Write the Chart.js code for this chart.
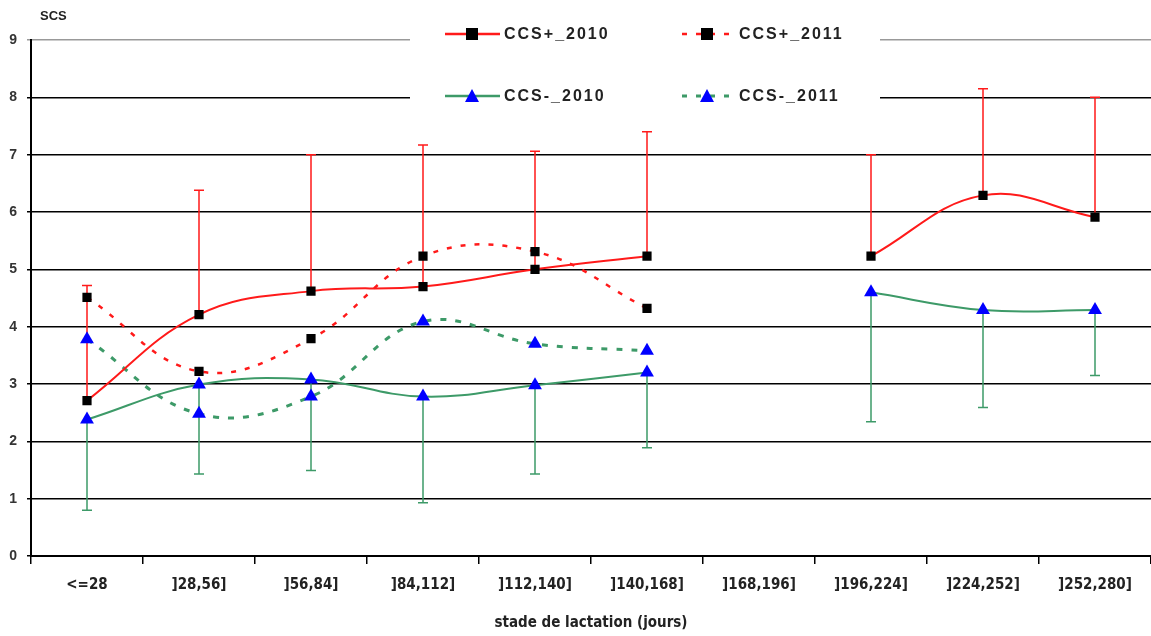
<!DOCTYPE html>
<html>
<head>
<meta charset="utf-8">
<script src="https://cdn.jsdelivr.net/npm/chart.js@4/dist/chart.umd.min.js"></script>
<style>
  html, body { margin: 0; padding: 0; background: #fff; overflow: hidden; }
  #wrap { width: 1151px; height: 636px; overflow: hidden; }
  canvas { display: block; }
</style>
</head>
<body>
<div id="wrap"><canvas id="myChart" width="1159" height="636"></canvas></div>
<script>
var labels = ["<=28", "]28,56]", "]56,84]", "]84,112]", "]112,140]", "]140,168]", "]168,196]", "]196,224]", "]224,252]", "]252,280]"];

var ccsPlus2010 = [2.71, 4.21, 4.62, 4.70, 5.00, 5.23, null, 5.23, 6.29, 5.91];
var ccsPlus2011 = [4.51, 3.22, 3.79, 5.23, 5.31, 4.32, null, null, null, null];
var ccsMinus2010 = [2.38, 2.99, 3.08, 2.78, 2.98, 3.20, null, 4.60, 4.29, 4.29];
var ccsMinus2011 = [3.78, 2.48, 2.78, 4.09, 3.70, 3.58, null, null, null, null];

// error bar ends
var plus2010Upper = [4.72, 6.38, 7.00, 7.17, 7.06, 7.40, null, 7.00, 8.15, 8.00];
var minus2010Lower = [0.80, 1.43, 1.49, 0.93, 1.43, 1.89, null, 2.34, 2.59, 3.15];

var yTicks = [0, 1, 2, 3, 4, 5, 6, 7, 8, 9];

var RED = '#ff1a1a';
var GREEN = '#3d9a68';
var BLUE = '#0000ff';

var narrow = "'Liberation Sans Narrow', 'DejaVu Sans Condensed', 'Liberation Sans', sans-serif";

var errorBars = {
    id: 'errorBars',
    beforeDatasetsDraw: function (chart) {
        var ctx = chart.ctx;
        var y = chart.scales.y;
        function draw(dsIndex, ends, color) {
            var meta = chart.getDatasetMeta(dsIndex);
            ctx.save();
            ctx.strokeStyle = color;
            ctx.lineWidth = 1.5;
            meta.data.forEach(function (pt, i) {
                if (ends[i] == null || chart.data.datasets[dsIndex].data[i] == null) return;
                var ye = y.getPixelForValue(ends[i]);
                ctx.beginPath();
                ctx.moveTo(pt.x, pt.y);
                ctx.lineTo(pt.x, ye);
                ctx.moveTo(pt.x - 5, ye);
                ctx.lineTo(pt.x + 5, ye);
                ctx.stroke();
            });
            ctx.restore();
        }
        draw(0, plus2010Upper, RED);
        draw(2, minus2010Lower, GREEN);
    }
};

var boxLegend = {
    id: 'boxLegend',
    afterDraw: function (chart) {
        var ctx = chart.ctx;
        ctx.save();
        // y axis title
        ctx.fillStyle = '#222';
        ctx.font = "bold 13px 'Liberation Sans', Arial, sans-serif";
        ctx.textBaseline = 'middle';
        ctx.fillText('SCS', 40, 16);
        ctx.restore();
    },
    beforeDatasetsDraw: function (chart) {
        var ctx = chart.ctx;
        ctx.save();
        ctx.fillStyle = '#fff';
        ctx.fillRect(410, 14, 470, 106);

        var items = [
            { text: 'CCS+_2010', color: RED, dash: [], width: 2.5, marker: 'rect', x: 445, y: 34 },
            { text: 'CCS+_2011', color: RED, dash: [5, 9], width: 2.5, marker: 'rect', x: 680, y: 34 },
            { text: 'CCS-_2010', color: GREEN, dash: [], width: 2.5, marker: 'tri', x: 445, y: 96 },
            { text: 'CCS-_2011', color: GREEN, dash: [5, 9], width: 3, marker: 'tri', x: 680, y: 96 }
        ];
        items.forEach(function (it) {
            ctx.strokeStyle = it.color;
            ctx.lineWidth = it.width;
            ctx.setLineDash(it.dash);
            ctx.beginPath();
            ctx.moveTo(it.x + (it.dash.length ? 2 : 0), it.y);
            ctx.lineTo(it.x + 55, it.y);
            ctx.stroke();
            ctx.setLineDash([]);
            var mx = it.x + 27;
            if (it.marker === 'rect') {
                ctx.fillStyle = '#000';
                ctx.fillRect(mx - 6, it.y - 6, 12, 12);
            } else {
                ctx.fillStyle = BLUE;
                ctx.beginPath();
                ctx.moveTo(mx, it.y - 7);
                ctx.lineTo(mx + 7, it.y + 6);
                ctx.lineTo(mx - 7, it.y + 6);
                ctx.closePath();
                ctx.fill();
            }
            ctx.fillStyle = '#222';
            ctx.font = "bold 16px 'Liberation Sans', Arial, sans-serif";
            ctx.letterSpacing = '2px';
            ctx.textBaseline = 'middle';
            ctx.fillText(it.text, it.x + 59, it.y + 1);
            ctx.letterSpacing = '0px';
        });
        ctx.restore();
    }
};

var ctx = document.getElementById("myChart").getContext('2d');

var myChart = new Chart(ctx, {
    type: 'line',
    data: {
        labels: labels,
        datasets: [{
            label: 'CCS+_2010',
            data: ccsPlus2010,
            borderColor: RED,
            borderWidth: 2,
            tension: 0.4,
            pointStyle: 'rect',
            pointRadius: 6.5,
            pointBackgroundColor: '#000',
            pointBorderColor: '#000',
            pointBorderWidth: 0,
            spanGaps: false,
            order: 2
        }, {
            label: 'CCS+_2011',
            data: ccsPlus2011,
            borderColor: RED,
            borderWidth: 2.5,
            borderDash: [5, 9],
            tension: 0.4,
            pointStyle: 'rect',
            pointRadius: 6.5,
            pointBackgroundColor: '#000',
            pointBorderColor: '#000',
            pointBorderWidth: 0,
            order: 1
        }, {
            label: 'CCS-_2010',
            data: ccsMinus2010,
            borderColor: GREEN,
            borderWidth: 2,
            tension: 0.4,
            pointStyle: 'triangle',
            pointRadius: 8,
            pointBackgroundColor: BLUE,
            pointBorderColor: BLUE,
            pointBorderWidth: 0,
            spanGaps: false,
            order: 4
        }, {
            label: 'CCS-_2011',
            data: ccsMinus2011,
            borderColor: GREEN,
            borderWidth: 3,
            borderDash: [6, 9],
            tension: 0.4,
            pointStyle: 'triangle',
            pointRadius: 8,
            pointBackgroundColor: BLUE,
            pointBorderColor: BLUE,
            pointBorderWidth: 0,
            order: 3
        }]
    },
    options: {
        responsive: false,
        animation: false,
        layout: { padding: { top: 40, right: 0, left: 0, bottom: 4 } },
        plugins: {
            legend: { display: false },
            tooltip: { enabled: false }
        },
        scales: {
            y: {
                min: 0,
                max: 9,
                afterBuildTicks: function (axis) {
                    axis.ticks = yTicks.map(function (v) { return { value: v }; });
                },
                afterFit: function (axis) {
                    axis.width = 31;
                    axis.paddingTop = 0;
                    axis.paddingBottom = 0;
                },
                border: { color: '#000', width: 2 },
                grid: {
                    color: function (c) { return c.tick && c.tick.value === 9 ? '#999' : '#000'; },
                    lineWidth: 1.5,
                    tickLength: 4
                },
                ticks: {
                    color: '#333',
                    padding: 10,
                    font: { size: 14, weight: 'bold', family: "'Liberation Sans', Arial, sans-serif" }
                }
            },
            x: {
                offset: true,
                afterFit: function (axis) {
                    axis.paddingLeft = 0;
                    axis.paddingRight = 0;
                },
                border: { color: '#000', width: 2 },
                grid: {
                    offset: true,
                    drawOnChartArea: false,
                    color: '#000',
                    tickLength: 8,
                    lineWidth: 1.5
                },
                ticks: {
                    color: '#222',
                    padding: 12,
                    maxRotation: 0,
                    autoSkip: false,
                    font: { size: 15, weight: 'bold', family: narrow }
                },
                title: {
                    display: true,
                    text: 'stade de lactation (jours)',
                    color: '#222',
                    padding: { top: 8, bottom: 0 },
                    font: { size: 15, weight: 'bold', family: narrow }
                }
            }
        }
    },
    plugins: [errorBars, boxLegend]
});
</script>
</body>
</html>
